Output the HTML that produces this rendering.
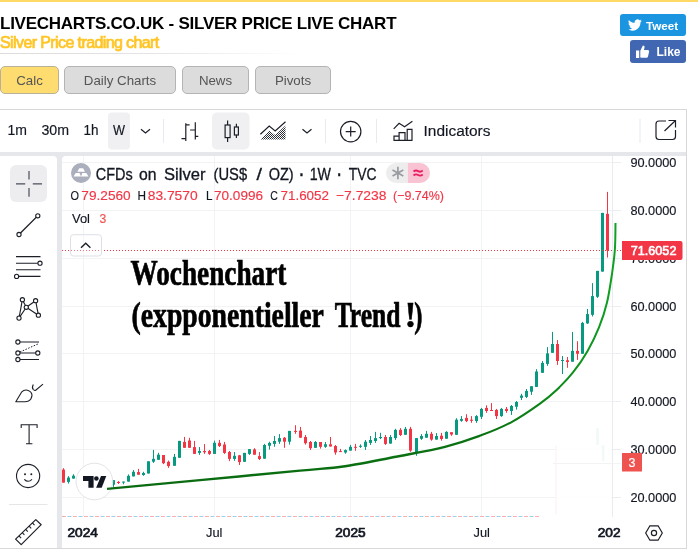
<!DOCTYPE html>
<html lang="en"><head><meta charset="utf-8"><title>Silver Price Live Chart</title>
<style>
html,body{margin:0;padding:0;background:#fff;}
body{width:698px;height:556px;overflow:hidden;position:relative;font-family:"Liberation Sans",Arial,sans-serif;}
#chart{position:absolute;left:0;top:0;width:698px;height:556px;}
#chart text{font-family:"Liberation Sans","DejaVu Sans",sans-serif;}
.topbar{position:absolute;left:0;top:0;width:698px;height:2px;background:#ffd966;}
h1{position:absolute;left:0;top:13.5px;margin:0;font-size:17px;line-height:20px;font-weight:bold;color:#000;white-space:nowrap;letter-spacing:-0.25px;}
h2{position:absolute;left:0;top:33.3px;margin:0;font-size:16px;line-height:20px;font-weight:normal;color:#ffc526;white-space:nowrap;letter-spacing:-0.6px;-webkit-text-stroke:0.7px #ffc526;}
.hr{position:absolute;left:0;top:53px;width:300px;height:1px;background:linear-gradient(90deg,#dcdcdc 0%,#e4e4e4 50%,rgba(240,240,240,0) 100%);}
.btn{position:absolute;top:66.4px;height:26px;line-height:27px;border:1px solid #b4b4b4;border-radius:5px;background:#dcdcdc;color:#555;font-size:13.3px;text-align:center;box-sizing:content-box;}
.btn.on{background:#ffdc70;border-color:#b9b098;}
.soc{position:absolute;color:#fff;font-weight:bold;font-size:12px;border-radius:3px;white-space:nowrap;}
.tw{left:620px;top:14px;width:66px;height:21.7px;background:#1b95e0;}
.fb{left:630px;top:40.2px;width:56px;height:22.7px;background:#4267b2;}
.soc span{position:absolute;top:0;}

</style></head><body>
<div class="topbar"></div>
<h1>LIVECHARTS.CO.UK - SILVER PRICE LIVE CHART</h1>
<h2>Silver Price trading chart</h2>
<div class="hr"></div>
<div class="btn on" style="left:0;width:57px;">Calc</div>
<div class="btn" style="left:64px;width:110px;">Daily Charts</div>
<div class="btn" style="left:182px;width:65px;">News</div>
<div class="btn" style="left:255px;width:74px;">Pivots</div>
<div class="soc tw"><svg width="66" height="21" style="position:absolute;left:0;top:0"><path transform="translate(8,4) scale(0.58)" fill="#fff" d="M23.6 4.6c-.9.4-1.800.7-2.800.800 1-.6 1.800-1.600 2.100-2.700-.9.600-2 1-3.100 1.200a4.900 4.900 0 0 0-8.300 4.500C7.500 8.200 3.900 6.300 1.500 3.300c-1.300 2.300-.6 5.100 1.500 6.500-.800 0-1.600-.2-2.200-.6 0 2.400 1.700 4.400 3.900 4.900-.7.200-1.500.2-2.200.100.600 2 2.400 3.400 4.600 3.400A9.900 9.900 0 0 1 0 19.600 13.900 13.900 0 0 0 7.500 21.800c9.100 0 14.300-7.700 14-14.600 1-.7 1.800-1.600 2.500-2.600z"/></svg><span style="left:26px;line-height:23.4px;font-size:11.7px;">Tweet</span></div>
<div class="soc fb"><svg width="56" height="22" style="position:absolute;left:0;top:0"><path fill="#fff" d="M6 10.500h3.200v7.500H6z M10.300 17.500v-6.800l2.600-5.200c1.300 0 1.900.9 1.600 2.200l-.6 2.300h3.900c1 0 1.500.8 1.300 1.700l-1.100 4.700c-.2.800-.8 1.300-1.600 1.300h-4.600z"/></svg><span style="left:26.5px;line-height:24.6px;font-size:12px;">Like</span></div>

<svg id="chart" width="698" height="556" viewBox="0 0 698 556">
<rect x="0" y="109" width="687" height="440" fill="#e6e7ea"/>
<rect x="0" y="109" width="687" height="1" fill="#d8d8d8"/>
<rect x="686" y="109" width="1" height="440" fill="#d8d8d8"/>
<rect x="0" y="548" width="687" height="1" fill="#d8d8d8"/>
<rect x="0" y="110" width="686" height="42" fill="#fff"/>
<path d="M0 156 H53 a4 4 0 0 1 4 4 V548 H0 Z" fill="#fff"/>
<path d="M66 156 H686 V548 H62 V160 a4 4 0 0 1 4 -4 Z" fill="#fff"/>
<line x1="62" x2="612" y1="162.5" y2="162.5" stroke="#f1f3f4" stroke-width="1"/>
<line x1="612" x2="621" y1="162.5" y2="162.5" stroke="#eceef2" stroke-width="1"/>
<line x1="62" x2="612" y1="210.5" y2="210.5" stroke="#f1f3f4" stroke-width="1"/>
<line x1="612" x2="621" y1="210.5" y2="210.5" stroke="#eceef2" stroke-width="1"/>
<line x1="62" x2="612" y1="258.5" y2="258.5" stroke="#f1f3f4" stroke-width="1"/>
<line x1="612" x2="621" y1="258.5" y2="258.5" stroke="#eceef2" stroke-width="1"/>
<line x1="62" x2="612" y1="306.5" y2="306.5" stroke="#f1f3f4" stroke-width="1"/>
<line x1="612" x2="621" y1="306.5" y2="306.5" stroke="#eceef2" stroke-width="1"/>
<line x1="62" x2="612" y1="353.5" y2="353.5" stroke="#f1f3f4" stroke-width="1"/>
<line x1="612" x2="621" y1="353.5" y2="353.5" stroke="#eceef2" stroke-width="1"/>
<line x1="62" x2="612" y1="401.5" y2="401.5" stroke="#f1f3f4" stroke-width="1"/>
<line x1="612" x2="621" y1="401.5" y2="401.5" stroke="#eceef2" stroke-width="1"/>
<line x1="62" x2="612" y1="449.5" y2="449.5" stroke="#f1f3f4" stroke-width="1"/>
<line x1="612" x2="621" y1="449.5" y2="449.5" stroke="#eceef2" stroke-width="1"/>
<line x1="62" x2="612" y1="497.5" y2="497.5" stroke="#f1f3f4" stroke-width="1"/>
<line x1="612" x2="621" y1="497.5" y2="497.5" stroke="#eceef2" stroke-width="1"/>
<line x1="83.5" x2="83.5" y1="156" y2="516" stroke="#f1f3f4" stroke-width="1"/>
<line x1="214.5" x2="214.5" y1="156" y2="516" stroke="#f1f3f4" stroke-width="1"/>
<line x1="350.5" x2="350.5" y1="156" y2="516" stroke="#f1f3f4" stroke-width="1"/>
<line x1="481.5" x2="481.5" y1="156" y2="516" stroke="#f1f3f4" stroke-width="1"/>
<line x1="612.5" x2="612.5" y1="156" y2="517" stroke="#e9ebef" stroke-width="1"/>
<line x1="67.5" x2="540" y1="516.5" y2="516.5" stroke="#9fd0ea" stroke-width="1" stroke-dasharray="4 7"/>
<line x1="62" x2="540" y1="516.5" y2="516.5" stroke="#f7b0b0" stroke-width="1" stroke-dasharray="4 7"/>
<rect x="555.5" y="444" width="56" height="72" fill="#fff" fill-opacity="0.85"/>
<rect x="572" y="428" width="28" height="17" fill="#fff" fill-opacity="0.85"/>
<rect x="553" y="463" width="68" height="1" fill="#f2f3f5"/>
<rect x="596" y="428" width="3" height="17" fill="#f2faf8"/>
<rect x="602" y="445" width="2.5" height="16" fill="#f2faf8"/>
<rect x="555.5" y="445" width="1" height="70" fill="#fef2f2"/>
<rect x="63" y="468.2" width="1" height="14.4" fill="#f23645"/>
<rect x="62" y="469.6" width="3" height="13.0" fill="#f23645"/>
<rect x="68" y="476.1" width="1" height="7.5" fill="#089981"/>
<rect x="67" y="477.6" width="3" height="4.3" fill="#089981"/>
<rect x="73" y="474.2" width="1" height="4.4" fill="#089981"/>
<rect x="72" y="475.7" width="3" height="2.9" fill="#089981"/>
<rect x="78" y="475.0" width="1" height="6.5" fill="#f23645"/>
<rect x="77" y="476.0" width="3" height="4.5" fill="#f23645"/>
<rect x="83" y="477.0" width="1" height="5.0" fill="#089981"/>
<rect x="82" y="478.0" width="3" height="2.5" fill="#089981"/>
<rect x="88" y="477.5" width="1" height="6.5" fill="#f23645"/>
<rect x="87" y="478.0" width="3" height="4.5" fill="#f23645"/>
<rect x="93" y="479.0" width="1" height="6.0" fill="#089981"/>
<rect x="92" y="480.5" width="3" height="2.0" fill="#089981"/>
<rect x="98" y="479.5" width="1" height="6.0" fill="#f23645"/>
<rect x="97" y="480.5" width="3" height="2.5" fill="#f23645"/>
<rect x="103" y="480.0" width="1" height="6.0" fill="#089981"/>
<rect x="102" y="481.5" width="3" height="1.5" fill="#089981"/>
<rect x="108" y="480.5" width="1" height="6.0" fill="#f23645"/>
<rect x="107" y="481.5" width="3" height="3.2" fill="#f23645"/>
<rect x="113" y="480.1" width="1" height="6.8" fill="#089981"/>
<rect x="112" y="480.1" width="3" height="4.6" fill="#089981"/>
<rect x="118" y="481.0" width="1" height="3.0" fill="#f23645"/>
<rect x="117" y="482.0" width="3" height="1.0" fill="#f23645"/>
<rect x="123" y="481.6" width="1" height="2.7" fill="#089981"/>
<rect x="122" y="481.6" width="3" height="1.0" fill="#089981"/>
<rect x="128" y="474.4" width="1" height="7.2" fill="#089981"/>
<rect x="127" y="475.8" width="3" height="5.8" fill="#089981"/>
<rect x="133" y="470.1" width="1" height="6.3" fill="#089981"/>
<rect x="132" y="471.8" width="3" height="4.6" fill="#089981"/>
<rect x="138" y="468.9" width="1" height="5.8" fill="#f23645"/>
<rect x="137" y="472.1" width="3" height="2.6" fill="#f23645"/>
<rect x="143" y="471.8" width="1" height="4.0" fill="#089981"/>
<rect x="142" y="473.0" width="3" height="2.0" fill="#089981"/>
<rect x="148" y="461.3" width="1" height="12.2" fill="#089981"/>
<rect x="147" y="461.3" width="3" height="12.2" fill="#089981"/>
<rect x="153" y="449.9" width="1" height="13.0" fill="#089981"/>
<rect x="152" y="458.8" width="3" height="2.9" fill="#089981"/>
<rect x="158" y="452.8" width="1" height="7.0" fill="#089981"/>
<rect x="157" y="454.7" width="3" height="5.1" fill="#089981"/>
<rect x="163" y="455.0" width="1" height="9.1" fill="#f23645"/>
<rect x="162" y="455.0" width="3" height="8.2" fill="#f23645"/>
<rect x="168" y="460.6" width="1" height="7.2" fill="#f23645"/>
<rect x="167" y="461.8" width="3" height="4.3" fill="#f23645"/>
<rect x="174" y="453.9" width="1" height="11.9" fill="#089981"/>
<rect x="173" y="456.8" width="3" height="9.0" fill="#089981"/>
<rect x="179" y="440.9" width="1" height="16.9" fill="#089981"/>
<rect x="178" y="440.9" width="3" height="16.9" fill="#089981"/>
<rect x="184" y="436.9" width="1" height="10.9" fill="#f23645"/>
<rect x="183" y="441.9" width="3" height="5.9" fill="#f23645"/>
<rect x="189" y="437.8" width="1" height="10.0" fill="#f23645"/>
<rect x="188" y="440.5" width="3" height="7.3" fill="#f23645"/>
<rect x="194" y="440.9" width="1" height="13.0" fill="#f23645"/>
<rect x="193" y="447.1" width="3" height="6.8" fill="#f23645"/>
<rect x="199" y="447.1" width="1" height="7.8" fill="#089981"/>
<rect x="198" y="451.0" width="3" height="1.9" fill="#089981"/>
<rect x="204" y="444.1" width="1" height="9.8" fill="#f23645"/>
<rect x="203" y="451.0" width="3" height="1.2" fill="#f23645"/>
<rect x="209" y="450.0" width="1" height="4.9" fill="#f23645"/>
<rect x="208" y="451.0" width="3" height="2.9" fill="#f23645"/>
<rect x="214" y="440.6" width="1" height="13.3" fill="#089981"/>
<rect x="213" y="442.8" width="3" height="11.1" fill="#089981"/>
<rect x="219" y="439.9" width="1" height="7.1" fill="#f23645"/>
<rect x="218" y="442.8" width="3" height="3.2" fill="#f23645"/>
<rect x="224" y="441.9" width="1" height="12.0" fill="#f23645"/>
<rect x="223" y="444.5" width="3" height="8.4" fill="#f23645"/>
<rect x="229" y="451.0" width="1" height="10.1" fill="#f23645"/>
<rect x="228" y="452.0" width="3" height="6.9" fill="#f23645"/>
<rect x="234" y="452.0" width="1" height="8.8" fill="#089981"/>
<rect x="233" y="455.8" width="3" height="3.1" fill="#089981"/>
<rect x="239" y="454.9" width="1" height="10.1" fill="#f23645"/>
<rect x="238" y="455.3" width="3" height="6.8" fill="#f23645"/>
<rect x="244" y="452.9" width="1" height="8.9" fill="#089981"/>
<rect x="243" y="452.9" width="3" height="8.9" fill="#089981"/>
<rect x="249" y="449.1" width="1" height="5.8" fill="#089981"/>
<rect x="248" y="449.1" width="3" height="4.8" fill="#089981"/>
<rect x="254" y="448.2" width="1" height="6.5" fill="#f23645"/>
<rect x="253" y="449.4" width="3" height="5.3" fill="#f23645"/>
<rect x="259" y="452.1" width="1" height="7.9" fill="#f23645"/>
<rect x="258" y="456.1" width="3" height="2.9" fill="#f23645"/>
<rect x="264" y="443.9" width="1" height="14.8" fill="#089981"/>
<rect x="263" y="445.0" width="3" height="13.7" fill="#089981"/>
<rect x="269" y="441.7" width="1" height="7.9" fill="#089981"/>
<rect x="268" y="442.9" width="3" height="2.9" fill="#089981"/>
<rect x="274" y="436.0" width="1" height="10.8" fill="#089981"/>
<rect x="273" y="441.0" width="3" height="2.9" fill="#089981"/>
<rect x="279" y="434.1" width="1" height="9.8" fill="#089981"/>
<rect x="278" y="438.1" width="3" height="3.6" fill="#089981"/>
<rect x="284" y="437.0" width="1" height="10.8" fill="#f23645"/>
<rect x="283" y="437.8" width="3" height="3.9" fill="#f23645"/>
<rect x="289" y="430.9" width="1" height="13.7" fill="#089981"/>
<rect x="288" y="430.9" width="3" height="10.8" fill="#089981"/>
<rect x="295" y="425.2" width="1" height="8.6" fill="#f23645"/>
<rect x="294" y="430.9" width="3" height="1.0" fill="#f23645"/>
<rect x="300" y="426.9" width="1" height="10.8" fill="#f23645"/>
<rect x="299" y="430.6" width="3" height="7.1" fill="#f23645"/>
<rect x="305" y="435.0" width="1" height="9.6" fill="#f23645"/>
<rect x="304" y="437.0" width="3" height="6.2" fill="#f23645"/>
<rect x="310" y="441.0" width="1" height="8.9" fill="#f23645"/>
<rect x="309" y="442.0" width="3" height="6.2" fill="#f23645"/>
<rect x="315" y="441.0" width="1" height="6.8" fill="#089981"/>
<rect x="314" y="442.0" width="3" height="5.8" fill="#089981"/>
<rect x="320" y="442.0" width="1" height="6.6" fill="#f23645"/>
<rect x="319" y="442.0" width="3" height="4.8" fill="#f23645"/>
<rect x="325" y="442.0" width="1" height="5.8" fill="#089981"/>
<rect x="324" y="444.3" width="3" height="2.5" fill="#089981"/>
<rect x="330" y="437.0" width="1" height="9.5" fill="#f23645"/>
<rect x="329" y="444.3" width="3" height="2.2" fill="#f23645"/>
<rect x="335" y="445.0" width="1" height="9.7" fill="#f23645"/>
<rect x="334" y="446.0" width="3" height="6.5" fill="#f23645"/>
<rect x="340" y="448.9" width="1" height="3.0" fill="#f23645"/>
<rect x="339" y="451.1" width="3" height="1.0" fill="#f23645"/>
<rect x="345" y="449.4" width="1" height="4.3" fill="#089981"/>
<rect x="344" y="450.1" width="3" height="2.4" fill="#089981"/>
<rect x="350" y="444.9" width="1" height="5.7" fill="#089981"/>
<rect x="349" y="446.8" width="3" height="3.8" fill="#089981"/>
<rect x="355" y="443.9" width="1" height="6.9" fill="#f23645"/>
<rect x="354" y="446.8" width="3" height="1.0" fill="#f23645"/>
<rect x="360" y="444.3" width="1" height="3.6" fill="#089981"/>
<rect x="359" y="445.8" width="3" height="1.0" fill="#089981"/>
<rect x="365" y="440.0" width="1" height="9.9" fill="#089981"/>
<rect x="364" y="441.7" width="3" height="5.1" fill="#089981"/>
<rect x="370" y="436.0" width="1" height="8.9" fill="#089981"/>
<rect x="369" y="440.0" width="3" height="2.9" fill="#089981"/>
<rect x="375" y="431.9" width="1" height="11.0" fill="#089981"/>
<rect x="374" y="438.1" width="3" height="2.9" fill="#089981"/>
<rect x="380" y="432.8" width="1" height="6.3" fill="#089981"/>
<rect x="379" y="437.0" width="3" height="1.1" fill="#089981"/>
<rect x="385" y="435.0" width="1" height="9.9" fill="#f23645"/>
<rect x="384" y="437.0" width="3" height="6.9" fill="#f23645"/>
<rect x="390" y="435.0" width="1" height="8.6" fill="#089981"/>
<rect x="389" y="437.0" width="3" height="6.6" fill="#089981"/>
<rect x="395" y="428.8" width="1" height="11.1" fill="#089981"/>
<rect x="394" y="429.9" width="3" height="8.2" fill="#089981"/>
<rect x="400" y="428.1" width="1" height="7.9" fill="#f23645"/>
<rect x="399" y="429.9" width="3" height="5.1" fill="#f23645"/>
<rect x="405" y="426.9" width="1" height="7.9" fill="#089981"/>
<rect x="404" y="428.8" width="3" height="6.0" fill="#089981"/>
<rect x="410" y="426.9" width="1" height="24.9" fill="#f23645"/>
<rect x="409" y="428.8" width="3" height="21.8" fill="#f23645"/>
<rect x="416" y="438.1" width="1" height="17.7" fill="#089981"/>
<rect x="415" y="438.1" width="3" height="14.4" fill="#089981"/>
<rect x="421" y="434.1" width="1" height="5.8" fill="#089981"/>
<rect x="420" y="436.0" width="3" height="2.8" fill="#089981"/>
<rect x="426" y="430.9" width="1" height="6.8" fill="#089981"/>
<rect x="425" y="433.8" width="3" height="3.9" fill="#089981"/>
<rect x="431" y="431.9" width="1" height="8.8" fill="#f23645"/>
<rect x="430" y="433.8" width="3" height="5.8" fill="#f23645"/>
<rect x="436" y="433.1" width="1" height="6.5" fill="#089981"/>
<rect x="435" y="436.0" width="3" height="3.6" fill="#089981"/>
<rect x="441" y="432.9" width="1" height="7.7" fill="#f23645"/>
<rect x="440" y="435.7" width="3" height="3.3" fill="#f23645"/>
<rect x="446" y="431.2" width="1" height="7.5" fill="#089981"/>
<rect x="445" y="431.9" width="3" height="6.8" fill="#089981"/>
<rect x="451" y="432.2" width="1" height="3.6" fill="#f23645"/>
<rect x="450" y="432.2" width="3" height="2.3" fill="#f23645"/>
<rect x="456" y="418.2" width="1" height="16.6" fill="#089981"/>
<rect x="455" y="419.7" width="3" height="15.1" fill="#089981"/>
<rect x="461" y="416.1" width="1" height="5.7" fill="#089981"/>
<rect x="460" y="419.0" width="3" height="1.8" fill="#089981"/>
<rect x="466" y="414.2" width="1" height="7.9" fill="#f23645"/>
<rect x="465" y="417.9" width="3" height="3.2" fill="#f23645"/>
<rect x="471" y="416.1" width="1" height="6.7" fill="#f23645"/>
<rect x="470" y="419.7" width="3" height="1.1" fill="#f23645"/>
<rect x="476" y="415.1" width="1" height="7.7" fill="#089981"/>
<rect x="475" y="416.1" width="3" height="5.0" fill="#089981"/>
<rect x="481" y="407.9" width="1" height="11.1" fill="#089981"/>
<rect x="480" y="408.9" width="3" height="7.9" fill="#089981"/>
<rect x="486" y="405.3" width="1" height="7.5" fill="#f23645"/>
<rect x="485" y="407.9" width="3" height="3.1" fill="#f23645"/>
<rect x="491" y="403.1" width="1" height="7.9" fill="#f23645"/>
<rect x="490" y="410.0" width="3" height="1.0" fill="#f23645"/>
<rect x="496" y="408.9" width="1" height="10.1" fill="#f23645"/>
<rect x="495" y="409.9" width="3" height="6.2" fill="#f23645"/>
<rect x="501" y="407.9" width="1" height="8.9" fill="#089981"/>
<rect x="500" y="408.9" width="3" height="7.2" fill="#089981"/>
<rect x="506" y="407.0" width="1" height="5.8" fill="#f23645"/>
<rect x="505" y="408.9" width="3" height="2.1" fill="#f23645"/>
<rect x="511" y="405.0" width="1" height="9.9" fill="#089981"/>
<rect x="510" y="406.0" width="3" height="5.0" fill="#089981"/>
<rect x="516" y="401.0" width="1" height="8.6" fill="#089981"/>
<rect x="515" y="402.0" width="3" height="4.7" fill="#089981"/>
<rect x="521" y="393.8" width="1" height="6.2" fill="#089981"/>
<rect x="520" y="395.6" width="3" height="2.2" fill="#089981"/>
<rect x="526" y="389.0" width="1" height="9.1" fill="#089981"/>
<rect x="525" y="390.9" width="3" height="6.0" fill="#089981"/>
<rect x="531" y="386.2" width="1" height="8.7" fill="#089981"/>
<rect x="530" y="386.2" width="3" height="5.5" fill="#089981"/>
<rect x="536" y="369.2" width="1" height="17.7" fill="#089981"/>
<rect x="535" y="371.5" width="3" height="15.4" fill="#089981"/>
<rect x="542" y="361.0" width="1" height="11.8" fill="#089981"/>
<rect x="541" y="362.9" width="3" height="9.9" fill="#089981"/>
<rect x="547" y="347.1" width="1" height="18.7" fill="#089981"/>
<rect x="546" y="353.4" width="3" height="10.5" fill="#089981"/>
<rect x="552" y="331.9" width="1" height="20.9" fill="#089981"/>
<rect x="551" y="344.0" width="3" height="8.8" fill="#089981"/>
<rect x="557" y="340.1" width="1" height="24.8" fill="#f23645"/>
<rect x="556" y="344.0" width="3" height="17.0" fill="#f23645"/>
<rect x="562" y="356.0" width="1" height="18.0" fill="#089981"/>
<rect x="561" y="360.0" width="3" height="1.0" fill="#089981"/>
<rect x="567" y="357.0" width="1" height="10.8" fill="#f23645"/>
<rect x="566" y="360.3" width="3" height="1.7" fill="#f23645"/>
<rect x="572" y="331.9" width="1" height="29.8" fill="#089981"/>
<rect x="571" y="350.9" width="3" height="10.8" fill="#089981"/>
<rect x="577" y="341.2" width="1" height="18.7" fill="#f23645"/>
<rect x="576" y="350.9" width="3" height="2.9" fill="#f23645"/>
<rect x="582" y="321.9" width="1" height="31.9" fill="#089981"/>
<rect x="581" y="322.9" width="3" height="30.9" fill="#089981"/>
<rect x="587" y="309.0" width="1" height="14.9" fill="#089981"/>
<rect x="586" y="314.1" width="3" height="9.3" fill="#089981"/>
<rect x="592" y="283.1" width="1" height="33.4" fill="#089981"/>
<rect x="591" y="296.1" width="3" height="18.7" fill="#089981"/>
<rect x="597" y="270.9" width="1" height="27.0" fill="#089981"/>
<rect x="596" y="270.9" width="3" height="25.9" fill="#089981"/>
<rect x="602" y="212.9" width="1" height="58.7" fill="#089981"/>
<rect x="601" y="212.9" width="3" height="58.7" fill="#089981"/>
<rect x="607" y="191.9" width="1" height="65.6" fill="#f23645"/>
<rect x="606" y="213.9" width="3" height="36.6" fill="#f23645"/>
<line x1="62" x2="622" y1="250.5" y2="250.5" stroke="#f23645" stroke-width="1" stroke-dasharray="1 2"/>
<circle cx="94.4" cy="481.5" r="18.3" fill="#fff" stroke="#e4e4e6" stroke-width="1"/>
<path d="M83 476.1 H93.6 V487.8 H88.4 V481.1 H83 Z" fill="#131722"/>
<circle cx="96.4" cy="478.5" r="2.3" fill="#131722"/>
<path d="M101 476.1 H106.3 L101.7 487.8 H96.1 Z" fill="#131722"/>
<defs><linearGradient id="gg" gradientUnits="userSpaceOnUse" x1="107" y1="0" x2="616" y2="0"><stop offset="0" stop-color="#0a6a10"/><stop offset="0.75" stop-color="#0a7212"/><stop offset="0.9" stop-color="#0c8c1a"/><stop offset="1" stop-color="#10a024"/></linearGradient>
<clipPath id="cflat"><rect x="0" y="0" width="480" height="556"/></clipPath><clipPath id="cmid"><rect x="480" y="0" width="80" height="556"/></clipPath><clipPath id="csteep"><rect x="560" y="0" width="138" height="556"/></clipPath></defs>
<path d="M107.0 488.9 C122.5 487.4 167.8 483.2 200.0 480.1 C232.2 477.1 275.8 472.9 300.0 470.6 C324.2 468.3 328.3 468.6 345.0 466.2 C361.7 463.8 383.3 459.2 400.0 456.0 C416.7 452.8 431.4 450.3 445.0 446.8 C458.6 443.3 470.5 439.3 481.7 435.1 C492.9 430.9 502.3 427.1 512.0 421.8 C521.7 416.6 532.6 408.9 540.0 403.6 C547.4 398.3 551.1 395.2 556.6 390.0 C562.1 384.8 568.0 378.6 573.2 372.1 C578.4 365.6 583.3 358.4 587.6 350.9 C591.9 343.4 595.9 335.2 599.1 327.2 C602.3 319.1 604.9 311.5 607.0 302.6 C609.1 293.7 610.7 282.7 612.0 273.8 C613.3 264.9 614.3 257.8 614.9 249.3 C615.5 240.8 615.4 227.4 615.5 223.0" fill="none" stroke="url(#gg)" stroke-width="2.4" stroke-linejoin="round" clip-path="url(#cflat)"/>
<path d="M107.0 488.9 C122.5 487.4 167.8 483.2 200.0 480.1 C232.2 477.1 275.8 472.9 300.0 470.6 C324.2 468.3 328.3 468.6 345.0 466.2 C361.7 463.8 383.3 459.2 400.0 456.0 C416.7 452.8 431.4 450.3 445.0 446.8 C458.6 443.3 470.5 439.3 481.7 435.1 C492.9 430.9 502.3 427.1 512.0 421.8 C521.7 416.6 532.6 408.9 540.0 403.6 C547.4 398.3 551.1 395.2 556.6 390.0 C562.1 384.8 568.0 378.6 573.2 372.1 C578.4 365.6 583.3 358.4 587.6 350.9 C591.9 343.4 595.9 335.2 599.1 327.2 C602.3 319.1 604.9 311.5 607.0 302.6 C609.1 293.7 610.7 282.7 612.0 273.8 C613.3 264.9 614.3 257.8 614.9 249.3 C615.5 240.8 615.4 227.4 615.5 223.0" fill="none" stroke="url(#gg)" stroke-width="2.1" stroke-linejoin="round" clip-path="url(#cmid)"/>
<path d="M107.0 488.9 C122.5 487.4 167.8 483.2 200.0 480.1 C232.2 477.1 275.8 472.9 300.0 470.6 C324.2 468.3 328.3 468.6 345.0 466.2 C361.7 463.8 383.3 459.2 400.0 456.0 C416.7 452.8 431.4 450.3 445.0 446.8 C458.6 443.3 470.5 439.3 481.7 435.1 C492.9 430.9 502.3 427.1 512.0 421.8 C521.7 416.6 532.6 408.9 540.0 403.6 C547.4 398.3 551.1 395.2 556.6 390.0 C562.1 384.8 568.0 378.6 573.2 372.1 C578.4 365.6 583.3 358.4 587.6 350.9 C591.9 343.4 595.9 335.2 599.1 327.2 C602.3 319.1 604.9 311.5 607.0 302.6 C609.1 293.7 610.7 282.7 612.0 273.8 C613.3 264.9 614.3 257.8 614.9 249.3 C615.5 240.8 615.4 227.4 615.5 223.0" fill="none" stroke="url(#gg)" stroke-width="2" stroke-linejoin="round" clip-path="url(#csteep)"/>
<rect x="108" y="112.500" width="22" height="37" rx="4" fill="#f0f0f2"/>
<path d="M141.0 129.25 L145.5 133.0 L150.0 129.25" fill="none" stroke="#1c1f28" stroke-width="1.2"/>
<rect x="163.0" y="119" width="1" height="24" fill="#e8eaef"/>
<rect x="325.0" y="119" width="1" height="24" fill="#e8eaef"/>
<rect x="376.0" y="119" width="1" height="24" fill="#e8eaef"/>
<rect x="639.5" y="119" width="1" height="24" fill="#e8eaef"/>
<path d="M185.800 123.200 V140.900 M181.500 138.600 H185.800 M185.800 124.900 H189.600 M195.300 122.300 V139.500 M190.100 130 H195.300 M195.300 136.400 H198.300" fill="none" stroke="#1c1f28" stroke-width="1.2"/>
<rect x="212" y="112.500" width="37.500" height="37" rx="5" fill="#f0f0f2"/>
<path d="M227.600 120.500 V125 M227.600 137.600 V142 M236.400 123.800 V127 M236.400 135 V138" stroke="#1c1f28" stroke-width="1.2" fill="none"/>
<rect x="225.100" y="125" width="5" height="12.600" fill="none" stroke="#1c1f28" stroke-width="1.2"/>
<rect x="234.400" y="127" width="4" height="8" fill="none" stroke="#1c1f28" stroke-width="1.2"/>
<defs><pattern id="dots" width="2" height="2" patternUnits="userSpaceOnUse"><rect width="1" height="1" fill="#2a2e39"/><rect x="1" y="1" width="1" height="1" fill="#2a2e39"/></pattern></defs>
<path d="M260.400 139.500 L269.200 130.500 L275.200 135 L285.500 125.500 V139.500 Z" fill="url(#dots)"/>
<path d="M260.400 134.300 L269.200 126.100 L275.200 130.900 L285.500 121.800" fill="none" stroke="#1c1f28" stroke-width="1.2"/>
<path d="M302.5 129.25 L307 133.0 L311.5 129.25" fill="none" stroke="#1c1f28" stroke-width="1.2"/>
<circle cx="350.700" cy="131.600" r="10.200" fill="none" stroke="#1c1f28" stroke-width="1.2"/>
<path d="M345.700 131.600 H355.700 M350.700 126.600 V136.600" stroke="#1c1f28" stroke-width="1.2"/>
<path d="M394 140.400 V136.200 H399.100 V140.400 M399.100 136.200 V132.600 H405 V140.400 M407.200 140.400 V129.400 H412 V140.400 M393.500 140.400 H412.500" fill="none" stroke="#1c1f28" stroke-width="1.2"/>
<path d="M393.700 128.800 L399.100 123.300 L404.600 126.800 L412.400 121.300" fill="none" stroke="#1c1f28" stroke-width="1.2"/>
<path d="M666 121 H659 a3 3 0 0 0 -3 3 V136.500 a3 3 0 0 0 3 3 H672.500 a3 3 0 0 0 3 -3 V130" fill="none" stroke="#1c1f28" stroke-width="1.2"/>
<path d="M664.500 131 L675.500 120.500 M668.500 120.500 H675.500 V127.500" fill="none" stroke="#1c1f28" stroke-width="1.2"/>
<rect x="10" y="165" width="37" height="37" rx="6" fill="#ededf0"/>
<path d="M16 183.800 H25.200 M32.800 183.800 H42 M29 171 V179.500 M29 188 V196.700" stroke="#4a4e59" stroke-width="1.200" fill="none"/>
<path d="M19 234.500 L37.800 215.800" stroke="#1c1f28" stroke-width="1.2"/>
<circle cx="37.8" cy="215.8" r="2.1" fill="#fff" stroke="#1c1f28" stroke-width="1.1"/>
<circle cx="19" cy="234.5" r="2.1" fill="#fff" stroke="#1c1f28" stroke-width="1.1"/>
<path d="M16 256.600 H40.500 M16 263.200 H38 M16 269.700 H40.500 M19 276.400 H40.500" stroke="#1c1f28" stroke-width="1.1"/>
<circle cx="40" cy="263.2" r="2.1" fill="#fff" stroke="#1c1f28" stroke-width="1.1"/>
<circle cx="16.6" cy="276.4" r="2.1" fill="#fff" stroke="#1c1f28" stroke-width="1.1"/>
<path d="M22.4 299.7 L26.3 307.3" stroke="#1c1f28" stroke-width="1.1"/>
<path d="M22.4 299.7 L19 318.1" stroke="#1c1f28" stroke-width="1.1"/>
<path d="M26.3 307.3 L19 318.1" stroke="#1c1f28" stroke-width="1.1"/>
<path d="M26.3 307.3 L35.6 300.7" stroke="#1c1f28" stroke-width="1.1"/>
<path d="M35.6 300.7 L38.4 315.2" stroke="#1c1f28" stroke-width="1.1"/>
<path d="M26.3 307.3 L38.4 315.2" stroke="#1c1f28" stroke-width="1.1"/>
<circle cx="22.4" cy="299.7" r="2.1" fill="#fff" stroke="#1c1f28" stroke-width="1.1"/>
<circle cx="35.6" cy="300.7" r="2.1" fill="#fff" stroke="#1c1f28" stroke-width="1.1"/>
<circle cx="26.3" cy="307.3" r="2.1" fill="#fff" stroke="#1c1f28" stroke-width="1.1"/>
<circle cx="38.4" cy="315.2" r="2.1" fill="#fff" stroke="#1c1f28" stroke-width="1.1"/>
<circle cx="19" cy="318.1" r="2.1" fill="#fff" stroke="#1c1f28" stroke-width="1.1"/>
<path d="M18 342 H39 M18 353 H37 M18 359.500 H39" stroke="#1c1f28" stroke-width="1.1"/>
<path d="M20 352 L39 343.500" stroke="#1c1f28" stroke-width="1" stroke-dasharray="1.5 1.500"/>
<circle cx="17.9" cy="342" r="2.1" fill="#fff" stroke="#1c1f28" stroke-width="1.1"/>
<circle cx="17.9" cy="353" r="2.1" fill="#fff" stroke="#1c1f28" stroke-width="1.1"/>
<circle cx="37.8" cy="353" r="2.1" fill="#fff" stroke="#1c1f28" stroke-width="1.1"/>
<circle cx="17.9" cy="359.5" r="2.1" fill="#fff" stroke="#1c1f28" stroke-width="1.1"/>
<path d="M15.800 401.700 L21.800 391.800 Q24 389.600 27.500 390.200 Q32 391.500 32 395.500 Q31.500 399.500 28.500 401 Q27 401.700 25 401.700 Z" fill="none" stroke="#1c1f28" stroke-width="1.1" stroke-linejoin="round"/>
<path d="M33.300 384.400 Q31.600 387.500 33.200 389.500 Q34.500 391 36 390 L43 384.200" fill="none" stroke="#1c1f28" stroke-width="1.1"/>
<path d="M21.200 428 V424.800 H37.100 V428 M29.100 424.800 V443.800 M26 443.800 H32.400" fill="none" stroke="#1c1f28" stroke-width="1.1"/>
<circle cx="28.100" cy="476" r="11.600" fill="none" stroke="#1c1f28" stroke-width="1.1"/>
<circle cx="25" cy="474.300" r="1" fill="#1c1f28"/><circle cx="31.300" cy="474.300" r="1" fill="#1c1f28"/>
<path d="M24.300 479.300 Q28.100 483.300 32 479.300" fill="none" stroke="#1c1f28" stroke-width="1.1"/>
<rect x="9" y="504" width="38.500" height="1" fill="#e6e6e8"/>
<path d="M15.600 539.100 L35.800 519.600 L41.200 524.700 L21.200 544.700 Z" fill="none" stroke="#1c1f28" stroke-width="1.2" stroke-linejoin="round"/>
<path d="M19.0 535.9 l2.100 2.200" stroke="#1c1f28" stroke-width="1.1"/>
<path d="M22.3 532.6 l2.100 2.200" stroke="#1c1f28" stroke-width="1.1"/>
<path d="M25.7 529.4 l2.100 2.200" stroke="#1c1f28" stroke-width="1.1"/>
<path d="M29.1 526.1 l2.100 2.200" stroke="#1c1f28" stroke-width="1.1"/>
<path d="M32.4 522.9 l2.100 2.200" stroke="#1c1f28" stroke-width="1.1"/>
<circle cx="81" cy="173" r="10" fill="#abaebc"/>
<path d="M79.300 168.300 H83.100 L85 171.700 H77.400 Z M75.700 173.100 H79.500 L81 176.400 H73.500 Z M82.400 173.100 H86.300 L88.500 176.400 H81 Z" fill="#fff"/>
<path d="M396 163 H407.800 V183 H396 a10 10 0 0 1 0 -20 Z" fill="#ededee"/>
<path d="M407.800 163 H420 a10 10 0 0 1 0 20 H407.800 Z" fill="#fac3d3"/>
<path d="M397.900 166.700 V179.300 M392.500 169.900 L403.300 176.100 M403.300 169.900 L392.500 176.100" stroke="#9a9ca2" stroke-width="1.700"/>
<path d="M413.500 171.600 q2.300 -1.900 4.600 -0.500 t4.600 -0.500 M413.500 175.500 q2.300 -1.900 4.600 -0.500 t4.600 -0.500" stroke="#e91e63" stroke-width="1.900" fill="none"/>
<rect x="70.500" y="234.700" width="31" height="21.300" rx="3" fill="#fff" fill-opacity="0.3" stroke="#dcdfe6" stroke-width="1"/>
<path d="M81 247.800 L85.700 243.300 L90.400 247.800" fill="none" stroke="#1c1f28" stroke-width="1.400"/>
<polygon points="662.3,533.0 658.1,540.2 649.9,540.2 645.7,533.0 649.9,525.8 658.1,525.8" fill="none" stroke="#1c1f28" stroke-width="1.2"/>
<circle cx="654" cy="533" r="2.600" fill="none" stroke="#1c1f28" stroke-width="1.2"/>
<text x="7.5" y="135.1" font-size="14" fill="#131722" font-weight="normal" stroke="#131722" stroke-width="0.15" text-anchor="start" textLength="19.5" lengthAdjust="spacingAndGlyphs">1m</text>
<text x="41.4" y="135.1" font-size="14" fill="#131722" font-weight="normal" stroke="#131722" stroke-width="0.15" text-anchor="start" textLength="27.6" lengthAdjust="spacingAndGlyphs">30m</text>
<text x="83.5" y="135.1" font-size="14" fill="#131722" font-weight="normal" stroke="#131722" stroke-width="0.15" text-anchor="start" textLength="15" lengthAdjust="spacingAndGlyphs">1h</text>
<text x="113" y="135.1" font-size="14" fill="#131722" font-weight="normal" stroke="#131722" stroke-width="0.15" text-anchor="start" textLength="12" lengthAdjust="spacingAndGlyphs">W</text>
<text x="423.5" y="135.6" font-size="14" fill="#131722" font-weight="normal" stroke="#131722" stroke-width="0.15" text-anchor="start" textLength="67" lengthAdjust="spacingAndGlyphs">Indicators</text>
<text x="95.8" y="179.6" font-size="16" fill="#131722" font-weight="normal" stroke="#131722" stroke-width="0.3" text-anchor="start" textLength="36.9" lengthAdjust="spacingAndGlyphs">CFDs</text>
<text x="139" y="179.6" font-size="16" fill="#131722" font-weight="normal" stroke="#131722" stroke-width="0.3" text-anchor="start" textLength="17.5" lengthAdjust="spacingAndGlyphs">on</text>
<text x="164" y="179.6" font-size="16" fill="#131722" font-weight="normal" stroke="#131722" stroke-width="0.3" text-anchor="start" textLength="41.4" lengthAdjust="spacingAndGlyphs">Silver</text>
<text x="213.6" y="179.6" font-size="16" fill="#131722" font-weight="normal" stroke="#131722" stroke-width="0.3" text-anchor="start" textLength="33.5" lengthAdjust="spacingAndGlyphs">(US$</text>
<text x="256.5" y="179.6" font-size="16" fill="#131722" font-weight="normal" stroke="#131722" stroke-width="0.3" text-anchor="start" textLength="5.5" lengthAdjust="spacingAndGlyphs">/</text>
<text x="268.7" y="179.6" font-size="16" fill="#131722" font-weight="normal" stroke="#131722" stroke-width="0.3" text-anchor="start" textLength="25.0" lengthAdjust="spacingAndGlyphs">OZ)</text>
<text x="299.8" y="179.6" font-size="16" fill="#131722" font-weight="bold" stroke="#131722" stroke-width="0.6" text-anchor="start" textLength="4.0" lengthAdjust="spacingAndGlyphs">·</text>
<text x="309.7" y="179.6" font-size="16" fill="#131722" font-weight="normal" stroke="#131722" stroke-width="0.3" text-anchor="start" textLength="21.3" lengthAdjust="spacingAndGlyphs">1W</text>
<text x="337.5" y="179.6" font-size="16" fill="#131722" font-weight="bold" stroke="#131722" stroke-width="0.6" text-anchor="start" textLength="4.0" lengthAdjust="spacingAndGlyphs">·</text>
<text x="348.8" y="179.6" font-size="16" fill="#131722" font-weight="normal" stroke="#131722" stroke-width="0.3" text-anchor="start" textLength="27.8" lengthAdjust="spacingAndGlyphs">TVC</text>
<text x="70.5" y="199.6" font-size="13" fill="#131722" font-weight="normal" stroke="#131722" stroke-width="0.15" text-anchor="start" textLength="8.5" lengthAdjust="spacingAndGlyphs">O</text>
<text x="81.3" y="199.6" font-size="13" fill="#f23645" font-weight="normal" stroke="#f23645" stroke-width="0.15" text-anchor="start" textLength="49.4" lengthAdjust="spacingAndGlyphs">79.2560</text>
<text x="137.5" y="199.6" font-size="13" fill="#131722" font-weight="normal" stroke="#131722" stroke-width="0.15" text-anchor="start" textLength="8.5" lengthAdjust="spacingAndGlyphs">H</text>
<text x="147.7" y="199.6" font-size="13" fill="#f23645" font-weight="normal" stroke="#f23645" stroke-width="0.15" text-anchor="start" textLength="50" lengthAdjust="spacingAndGlyphs">83.7570</text>
<text x="206" y="199.6" font-size="13" fill="#131722" font-weight="normal" stroke="#131722" stroke-width="0.15" text-anchor="start" textLength="6.5" lengthAdjust="spacingAndGlyphs">L</text>
<text x="214" y="199.6" font-size="13" fill="#f23645" font-weight="normal" stroke="#f23645" stroke-width="0.15" text-anchor="start" textLength="49" lengthAdjust="spacingAndGlyphs">70.0996</text>
<text x="270.2" y="199.6" font-size="13" fill="#131722" font-weight="normal" stroke="#131722" stroke-width="0.15" text-anchor="start" textLength="7.6" lengthAdjust="spacingAndGlyphs">C</text>
<text x="280.5" y="199.6" font-size="13" fill="#f23645" font-weight="normal" stroke="#f23645" stroke-width="0.15" text-anchor="start" textLength="48.5" lengthAdjust="spacingAndGlyphs">71.6052</text>
<text x="336" y="199.6" font-size="13" fill="#f23645" font-weight="normal" stroke="#f23645" stroke-width="0.15" text-anchor="start" textLength="50.5" lengthAdjust="spacingAndGlyphs">−7.7238</text>
<text x="393" y="199.6" font-size="13" fill="#f23645" font-weight="normal" stroke="#f23645" stroke-width="0.15" text-anchor="start" textLength="51" lengthAdjust="spacingAndGlyphs">(−9.74%)</text>
<text x="72" y="222.7" font-size="13" fill="#131722" font-weight="normal" stroke="#131722" stroke-width="0.15" text-anchor="start" textLength="18" lengthAdjust="spacingAndGlyphs">Vol</text>
<text x="99.6" y="222.7" font-size="13" fill="#ef5350" font-weight="normal" stroke="#ef5350" stroke-width="0.15" text-anchor="start" textLength="6.8" lengthAdjust="spacingAndGlyphs">3</text>
<text x="630.4" y="167.1" font-size="12.5" fill="#131722" font-weight="normal" stroke="#131722" stroke-width="0.15" text-anchor="start" textLength="46" lengthAdjust="spacingAndGlyphs">90.0000</text>
<text x="630.4" y="214.9" font-size="12.5" fill="#131722" font-weight="normal" stroke="#131722" stroke-width="0.15" text-anchor="start" textLength="46" lengthAdjust="spacingAndGlyphs">80.0000</text>
<text x="630.4" y="262.7" font-size="12.5" fill="#131722" font-weight="normal" stroke="#131722" stroke-width="0.15" text-anchor="start" textLength="46" lengthAdjust="spacingAndGlyphs">70.0000</text>
<text x="630.4" y="310.5" font-size="12.5" fill="#131722" font-weight="normal" stroke="#131722" stroke-width="0.15" text-anchor="start" textLength="46" lengthAdjust="spacingAndGlyphs">60.0000</text>
<text x="630.4" y="358.3" font-size="12.5" fill="#131722" font-weight="normal" stroke="#131722" stroke-width="0.15" text-anchor="start" textLength="46" lengthAdjust="spacingAndGlyphs">50.0000</text>
<text x="630.4" y="406.1" font-size="12.5" fill="#131722" font-weight="normal" stroke="#131722" stroke-width="0.15" text-anchor="start" textLength="46" lengthAdjust="spacingAndGlyphs">40.0000</text>
<text x="630.4" y="453.9" font-size="12.5" fill="#131722" font-weight="normal" stroke="#131722" stroke-width="0.15" text-anchor="start" textLength="46" lengthAdjust="spacingAndGlyphs">30.0000</text>
<text x="630.4" y="501.7" font-size="12.5" fill="#131722" font-weight="normal" stroke="#131722" stroke-width="0.15" text-anchor="start" textLength="46" lengthAdjust="spacingAndGlyphs">20.0000</text>
<path d="M622 241 H680.500 a2 2 0 0 1 2 2 V258 a2 2 0 0 1 -2 2 H622 Z" fill="#f23645"/>
<text x="630.8" y="254.5" font-size="12.5" fill="#fff" font-weight="normal" stroke="#fff" stroke-width="0.6" text-anchor="start" textLength="45.6" lengthAdjust="spacingAndGlyphs">71.6052</text>
<rect x="622" y="453" width="20" height="18.500" fill="#ef5350"/>
<text x="632" y="466.6" font-size="12.5" fill="#fff" font-weight="normal" stroke="#fff" stroke-width="0.15" text-anchor="middle">3</text>
<text x="67.5" y="536.8" font-size="12.5" fill="#131722" font-weight="normal" stroke="#131722" stroke-width="0.7" text-anchor="start" textLength="30.5" lengthAdjust="spacingAndGlyphs">2024</text>
<text x="206" y="536.8" font-size="12.5" fill="#131722" font-weight="normal" stroke="#131722" stroke-width="0.15" text-anchor="start" textLength="16.4" lengthAdjust="spacingAndGlyphs">Jul</text>
<text x="335.2" y="536.8" font-size="12.5" fill="#131722" font-weight="normal" stroke="#131722" stroke-width="0.7" text-anchor="start" textLength="30.5" lengthAdjust="spacingAndGlyphs">2025</text>
<text x="473.5" y="536.8" font-size="12.5" fill="#131722" font-weight="normal" stroke="#131722" stroke-width="0.15" text-anchor="start" textLength="16.4" lengthAdjust="spacingAndGlyphs">Jul</text>
<clipPath id="tc"><rect x="590" y="520" width="30.500" height="28"/></clipPath>
<text x="597.7" y="536.8" font-size="12.5" fill="#131722" font-weight="normal" stroke="#131722" stroke-width="0.7" text-anchor="start" textLength="30.5" lengthAdjust="spacingAndGlyphs" clip-path="url(#tc)">2026</text>
<text x="130.5" y="285.2" font-size="36" fill="#000" font-weight="bold" stroke="#000" stroke-width="0.7" text-anchor="start" style="font-family:'Liberation Serif','DejaVu Serif',serif" textLength="155.8" lengthAdjust="spacingAndGlyphs">Wochenchart</text>
<text x="131.5" y="327" font-size="36" fill="#000" font-weight="bold" stroke="#000" stroke-width="0.7" text-anchor="start" style="font-family:'Liberation Serif','DejaVu Serif',serif" textLength="192.4" lengthAdjust="spacingAndGlyphs">(expponentieller</text>
<text x="334.7" y="327" font-size="36" fill="#000" font-weight="bold" stroke="#000" stroke-width="0.7" text-anchor="start" style="font-family:'Liberation Serif','DejaVu Serif',serif" textLength="65.8" lengthAdjust="spacingAndGlyphs">Trend</text>
<text x="414.2" y="327" font-size="36" fill="#000" font-weight="bold" stroke="#000" stroke-width="0.7" text-anchor="start" style="font-family:'Liberation Serif','DejaVu Serif',serif" textLength="8.2" lengthAdjust="spacingAndGlyphs">)</text>
<text x="410.4" y="327" font-size="36" fill="#000" font-weight="bold" stroke="#000" stroke-width="0.5" text-anchor="middle" style="font-family:'Liberation Serif','DejaVu Serif',serif">!</text>
</svg>
</body></html>
